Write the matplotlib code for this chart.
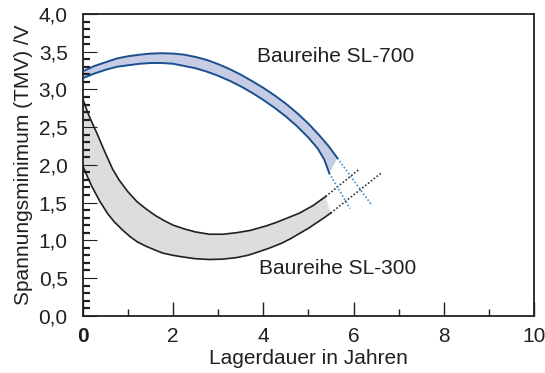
import numpy as np
import matplotlib
matplotlib.use("Agg")
import matplotlib.pyplot as plt
from matplotlib.ticker import MultipleLocator, FuncFormatter

plt.rcParams["font.family"] = ["Liberation Sans", "DejaVu Sans"]

# ── data ─────────────────────────────────────────────────────────────────────
# SL-700 band (blue)
sl700_up_x = [0.0, 0.25, 0.5, 0.75, 1.0, 1.25, 1.5, 1.75, 2.0, 2.25, 2.5, 2.75,
              3.0, 3.25, 3.5, 3.75, 4.0, 4.25, 4.5, 4.75, 5.0, 5.25, 5.45, 5.64]
sl700_up_y = [3.24, 3.31, 3.36, 3.41, 3.44, 3.46, 3.475, 3.48, 3.475, 3.46, 3.43, 3.39,
              3.335, 3.27, 3.195, 3.11, 3.02, 2.92, 2.81, 2.685, 2.545, 2.385, 2.245, 2.09]
sl700_lo_x = [0.0, 0.25, 0.5, 0.75, 1.0, 1.25, 1.5, 1.75, 2.0, 2.25, 2.5, 2.75,
              3.0, 3.25, 3.5, 3.75, 4.0, 4.25, 4.5, 4.75, 5.0, 5.2, 5.35, 5.46]
sl700_lo_y = [3.15, 3.21, 3.26, 3.30, 3.32, 3.34, 3.35, 3.35, 3.34, 3.31, 3.28, 3.235,
              3.18, 3.115, 3.04, 2.955, 2.86, 2.755, 2.64, 2.51, 2.36, 2.22, 2.07, 1.89]

# SL-300 band (grey)
sl300_up_x = [0.0, 0.1, 0.2, 0.3, 0.4, 0.5, 0.66, 0.8, 1.0, 1.2, 1.41, 1.6, 1.8,
              2.0, 2.25, 2.5, 2.8, 3.1, 3.4, 3.7, 4.06, 4.3, 4.55, 4.8, 5.1, 5.38]
sl300_up_y = [2.87, 2.70, 2.56, 2.43, 2.29, 2.15, 1.94, 1.80, 1.64, 1.51, 1.41, 1.33, 1.26,
              1.20, 1.15, 1.11, 1.08, 1.08, 1.10, 1.13, 1.19, 1.24, 1.30, 1.36, 1.46, 1.58]
sl300_lo_x = [0.0, 0.1, 0.2, 0.37, 0.55, 0.7, 0.87, 1.04, 1.2, 1.4, 1.6, 1.77, 2.0,
              2.2, 2.5, 2.81, 3.1, 3.4, 3.65, 3.91, 4.15, 4.4, 4.6, 4.8, 5.0, 5.2,
              5.35, 5.49]
sl300_lo_y = [1.98, 1.84, 1.71, 1.52, 1.35, 1.24, 1.14, 1.05, 0.98, 0.92, 0.87, 0.83, 0.80,
              0.78, 0.755, 0.745, 0.75, 0.77, 0.80, 0.85, 0.90, 0.96, 1.02, 1.09, 1.16, 1.24,
              1.30, 1.36]

# dotted extrapolations (start -> end)
sl700_ext_up = ([5.64, 6.41], [2.09, 1.46])
sl700_ext_lo = ([5.46, 5.92], [1.89, 1.42])
sl300_ext_up = ([5.38, 6.12], [1.58, 1.94])
sl300_ext_lo = ([5.49, 6.63], [1.36, 1.90])

labels = ["Baureihe SL-700", "Baureihe SL-300"]
label_pos = [(3.86, 3.43), (3.91, 0.63)]

BLUE = "#1a4f90"
BLUE_FILL = "#c6cce3"
BLUE_DOT = "#3a8fd6"
GREY_FILL = "#dcdddf"
INK = "#231f20"

fig = plt.figure(figsize=(5.45, 3.73), dpi=100)
ax = fig.add_axes([0.1523, 0.1536, 0.8275, 0.8089])

# ── bands ────────────────────────────────────────────────────────────────────
ax.fill(np.concatenate([sl300_up_x, sl300_lo_x[::-1]]),
        np.concatenate([sl300_up_y, sl300_lo_y[::-1]]),
        color=GREY_FILL, lw=0, zorder=1)
ax.plot(sl300_up_x, sl300_up_y, color=INK, lw=1.2, zorder=3)
ax.plot(sl300_lo_x, sl300_lo_y, color=INK, lw=1.2, zorder=3)

ax.fill(np.concatenate([sl700_up_x, sl700_lo_x[::-1]]),
        np.concatenate([sl700_up_y, sl700_lo_y[::-1]]),
        color=BLUE_FILL, lw=0, zorder=1)
ax.plot(sl700_up_x, sl700_up_y, color=BLUE, lw=1.4, zorder=3)
ax.plot(sl700_lo_x, sl700_lo_y, color=BLUE, lw=1.4, zorder=3)

for ext in (sl300_ext_up, sl300_ext_lo):
    ax.plot(*ext, color="#333333", lw=1.2, ls=(0, (1, 1.2)), zorder=2)
for ext in (sl700_ext_up, sl700_ext_lo):
    ax.plot(*ext, color=BLUE_DOT, lw=1.2, ls=(0, (1, 1.2)), zorder=2)

for txt, (tx, ty) in zip(labels, label_pos):
    ax.text(tx, ty, txt, fontsize=15, color=INK, va="center", ha="left")

# ── axes ─────────────────────────────────────────────────────────────────────
ax.set_xlim(0, 10)
ax.set_ylim(0, 4)
ax.xaxis.set_major_locator(MultipleLocator(2))
ax.xaxis.set_minor_locator(MultipleLocator(1))
ax.yaxis.set_major_locator(MultipleLocator(0.5))
ax.yaxis.set_minor_locator(MultipleLocator(0.1))
ax.yaxis.set_major_formatter(FuncFormatter(lambda v, p: f"{v:.1f}".replace(".", ",")))
ax.xaxis.set_major_formatter(FuncFormatter(lambda v, p: f"{v:.0f}"))

ax.tick_params(axis="both", which="both", direction="in", colors=INK,
               labelsize=15, top=False, right=False)
ax.tick_params(axis="y", which="major", length=10, width=0.8, pad=11)
ax.tick_params(axis="y", which="minor", length=5, width=1.6)
ax.tick_params(axis="x", which="major", length=10, width=1.0, pad=8)
ax.tick_params(axis="x", which="minor", length=5, width=1.0)
for lbl in ax.get_xticklabels():
    if lbl.get_text() == "0":
        lbl.set_fontweight("bold")

for sp in ax.spines.values():
    sp.set_color(INK)
    sp.set_linewidth(1.3)

ax.set_xlabel("Lagerdauer in Jahren", fontsize=15, color=INK, labelpad=2)
ax.set_ylabel("Spannungsminimum (TMV) /V", fontsize=15, color=INK, labelpad=4)

fig.savefig("out.png", dpi=100)
